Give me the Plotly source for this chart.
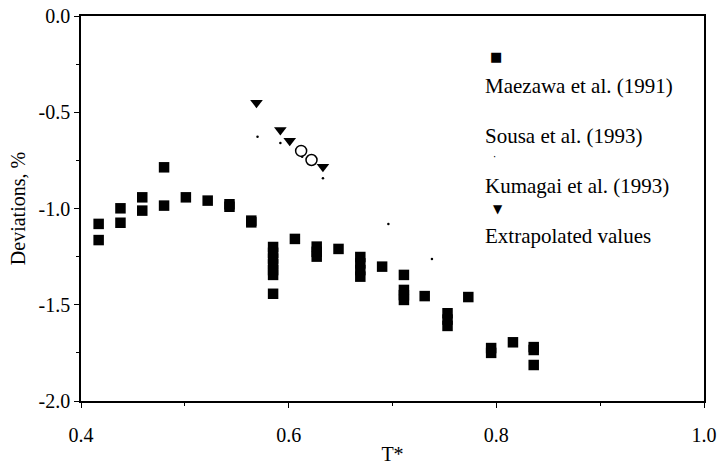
import plotly.graph_objects as go

# Maezawa et al. (1991) - filled squares
maezawa_x = [0.417, 0.417, 0.438, 0.438, 0.459, 0.459, 0.480, 0.480, 0.501, 0.522,
             0.543, 0.543, 0.564, 0.564,
             0.585, 0.585, 0.585, 0.585, 0.585, 0.585, 0.585,
             0.606, 0.627, 0.627, 0.627, 0.648,
             0.669, 0.669, 0.669, 0.669, 0.690,
             0.711, 0.711, 0.711, 0.711, 0.731,
             0.753, 0.753, 0.753, 0.773, 0.795, 0.795, 0.816,
             0.836, 0.836, 0.836]
maezawa_y = [-1.080, -1.164, -0.999, -1.074, -0.942, -1.011, -0.786, -0.985, -0.942, -0.959,
             -0.978, -0.991, -1.063, -1.072,
             -1.200, -1.230, -1.260, -1.290, -1.320, -1.345, -1.443,
             -1.158, -1.198, -1.225, -1.250, -1.210,
             -1.252, -1.285, -1.320, -1.354, -1.302,
             -1.345, -1.423, -1.450, -1.475, -1.455,
             -1.544, -1.577, -1.610, -1.460, -1.725, -1.750, -1.695,
             -1.720, -1.735, -1.813]

# Sousa et al. (1993) - open circles
sousa_x = [0.612, 0.622]
sousa_y = [-0.701, -0.748]

# Kumagai et al. (1993) - tiny dots
kumagai_x = [0.570, 0.592, 0.613, 0.633, 0.696, 0.738]
kumagai_y = [-0.627, -0.660, -0.731, -0.843, -1.081, -1.262]

# Extrapolated values - filled down triangles
extrap_x = [0.569, 0.592, 0.601, 0.633]
extrap_y = [-0.450, -0.592, -0.648, -0.783]

y_tickvals = [0.0, -0.5, -1.0, -1.5, -2.0]
y_ticktext = ["0.0", "-0.5", "-1.0", "-1.5", "-2.0"]
x_tickvals = [0.4, 0.6, 0.8, 1.0]
x_ticktext = ["0.4", "0.6", "0.8", "1.0"]

legend_labels = ["Maezawa et al. (1991)", "Sousa et al. (1993)",
                 "Kumagai et al. (1993)", "Extrapolated values"]

FONT = "Liberation Serif"

fig = go.Figure()
fig.add_trace(go.Scatter(x=maezawa_x, y=maezawa_y, mode="markers", name=legend_labels[0],
                         marker=dict(symbol="square", size=10.5, color="black")))
fig.add_trace(go.Scatter(x=sousa_x, y=sousa_y, mode="markers", name=legend_labels[1],
                         marker=dict(symbol="circle-open", size=11, color="black",
                                     line=dict(width=1.5, color="black"))))
fig.add_trace(go.Scatter(x=kumagai_x, y=kumagai_y, mode="markers", name=legend_labels[2],
                         marker=dict(symbol="circle", size=2.5, color="black")))
fig.add_trace(go.Scatter(x=extrap_x, y=extrap_y, mode="markers", name=legend_labels[3],
                         marker=dict(symbol="triangle-down", size=11, color="black")))

# Legend drawn as text, reproducing the original layout (symbol above each label)
label_y = [0.818, 0.688, 0.558, 0.429]
for lbl, yy in zip(legend_labels, label_y):
    fig.add_annotation(x=0.645, y=yy, xref="paper", yref="paper", text=lbl,
                       showarrow=False, xanchor="left", yanchor="middle",
                       font=dict(family=FONT, size=21, color="black"))
fig.add_annotation(x=0.666, y=0.894, xref="paper", yref="paper", text="■",
                   showarrow=False, xanchor="center", yanchor="middle",
                   font=dict(family="DejaVu Sans", size=13, color="black"))
fig.add_annotation(x=0.6645, y=0.634, xref="paper", yref="paper", text="·",
                   showarrow=False, xanchor="center", yanchor="middle",
                   font=dict(family="DejaVu Sans", size=10, color="black"))
fig.add_annotation(x=0.669, y=0.499, xref="paper", yref="paper", text="▼",
                   showarrow=False, xanchor="center", yanchor="middle",
                   font=dict(family="DejaVu Sans", size=12, color="black"))

axis_common = dict(showline=True, linecolor="black", linewidth=1.5, mirror=True,
                   showgrid=False, zeroline=False, ticks="outside", ticklen=5,
                   tickwidth=1.2, tickcolor="black", automargin=False,
                   tickfont=dict(family=FONT, size=20, color="black"))

fig.update_xaxes(range=[0.4, 1.0], tickvals=x_tickvals, ticktext=x_ticktext,
                 ticklabelstandoff=10,
                 minor=dict(dtick=0.1, ticks="outside", ticklen=3, tickcolor="black"),
                 title=dict(text="T*", font=dict(family=FONT, size=20, color="black"),
                            standoff=2),
                 **axis_common)
fig.update_yaxes(range=[-2.0, 0.0], tickvals=y_tickvals, ticktext=y_ticktext,
                 minor=dict(dtick=0.25, ticks="outside", ticklen=3, tickcolor="black"),
                 title=dict(text="Deviations, %", font=dict(family=FONT, size=20, color="black"),
                            standoff=8),
                 **axis_common)

fig.update_layout(width=722, height=466, showlegend=False,
                  font=dict(family=FONT, color="black"),
                  margin=dict(l=81, r=18, t=16, b=65),
                  plot_bgcolor="white", paper_bgcolor="white")

fig.write_html("out.html", config={"displayModeBar": False},
               post_script="document.body.style.margin='0';document.body.style.overflow='hidden';")
